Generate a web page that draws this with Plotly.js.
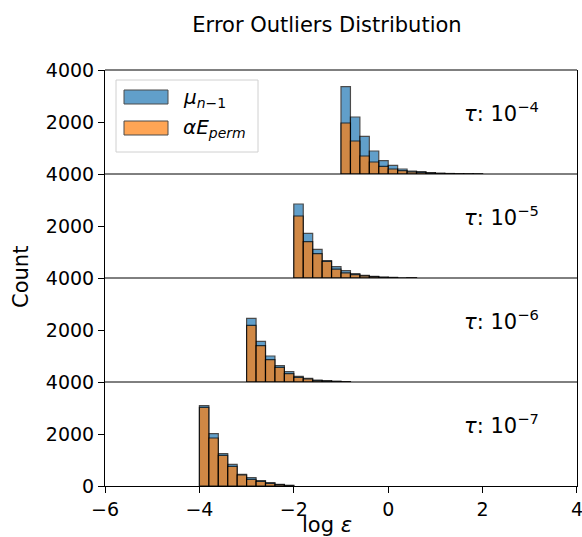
<!DOCTYPE html>
<html>
<head>
<meta charset="utf-8">
<script src="https://cdn.plot.ly/plotly-3.0.1.min.js"></script>
<style>html,body{margin:0;padding:0;background:#fff;}#chart{width:582px;height:537px;}</style>
</head>
<body>
<div id="chart"></div>
<script>
// ---- data ----
const binWidth = 0.2;
const binStarts = [-1, -2, -3, -4];               // left edge of first bin per panel
const tauLabels = ["<i>τ</i>: 10<sup>−4</sup>", "<i>τ</i>: 10<sup>−5</sup>", "<i>τ</i>: 10<sup>−6</sup>", "<i>τ</i>: 10<sup>−7</sup>"];

const muCounts1 = [3358, 2192, 1447, 885, 512, 330, 192, 115, 90, 55, 30, 20, 12, 8, 5];
const eCounts1  = [1962, 1270, 692, 461, 290, 192, 128, 85, 65, 40, 22, 14, 8, 5, 3];

const muCounts2 = [2846, 1715, 1100, 665, 435, 280, 165, 100, 65, 35, 25, 0, 10];
const eCounts2  = [2385, 1396, 935, 640, 340, 200, 128, 85, 50, 25, 15, 0, 6];

const muCounts3 = [2450, 1565, 1000, 627, 396, 219, 142, 77, 50, 30, 15];
const eCounts3  = [2180, 1396, 858, 565, 320, 181, 115, 50, 35, 20, 10];

const muCounts4 = [3090, 2012, 1242, 835, 450, 320, 204, 127, 65, 25];
const eCounts4  = [3027, 1846, 1181, 758, 423, 258, 181, 104, 50, 20];

const xTickVals = [-6, -4, -2, 0, 2, 4];
const xTickText = ["−6", "−4", "−2", "0", "2", "4"];

const muAll = [muCounts1, muCounts2, muCounts3, muCounts4];
const eAll  = [eCounts1, eCounts2, eCounts3, eCounts4];

// ---- build ----
const FONT = "DejaVu Sans, Liberation Sans, sans-serif";
const BLUE = "#1f77b4", ORANGE = "#ff7f0e";
const traces = [];
const yNames = ["y", "y2", "y3", "y4"];
for (let p = 0; p < 4; p++) {
  const centers = muAll[p].map((_, i) => binStarts[p] + binWidth * (i + 0.5));
  traces.push({type: "bar", x: centers, y: muAll[p], width: binWidth, xaxis: "x", yaxis: yNames[p],
    marker: {color: BLUE, opacity: 0.7, line: {color: "#000", width: 1.2}}, showlegend: false, hoverinfo: "skip"});
  traces.push({type: "bar", x: centers, y: eAll[p], width: binWidth, xaxis: "x", yaxis: yNames[p],
    marker: {color: ORANGE, opacity: 0.7, line: {color: "#000", width: 1.2}}, showlegend: false, hoverinfo: "skip"});
}

const L = 105, R = 5, T = 70, B = 51, W = 582, H = 537;
const pw = W - L - R, ph = H - T - B;
const px = v => (v - L) / pw;
const py = v => (H - B - v) / ph;

function yaxis(p) {
  const top = 1 - p * 0.25, bot = top - 0.25;
  return {
    domain: [bot, top], range: [0, 4000], anchor: "x",
    tickvals: p === 3 ? [0, 2000, 4000] : [2000, 4000],
    ticks: "outside", ticklen: 6, tickwidth: 1, tickcolor: "#000",
    showline: true, linecolor: "#000", linewidth: 1, mirror: true,
    showgrid: false, zeroline: false, ticklabeloverflow: "allow",
    tickfont: {family: FONT, size: 19, color: "#000"}
  };
}

const shapes = [];
[0.25, 0.5, 0.75, 1.0].forEach(v => shapes.push({type: "line", xref: "paper", yref: "paper",
  x0: 0, x1: 1, y0: v, y1: v, line: {color: "#000", width: 1}}));
// legend box
shapes.push({type: "rect", xref: "paper", yref: "paper", x0: px(116), x1: px(258), y0: py(152), y1: py(80),
  fillcolor: "rgba(255,255,255,0.8)", line: {color: "#d0d0d0", width: 1}});
shapes.push({type: "rect", xref: "paper", yref: "paper", x0: px(124), x1: px(168), y0: py(104), y1: py(90),
  fillcolor: BLUE, opacity: 0.7, line: {color: "#000", width: 1}});
shapes.push({type: "rect", xref: "paper", yref: "paper", x0: px(124), x1: px(168), y0: py(135), y1: py(121),
  fillcolor: ORANGE, opacity: 0.7, line: {color: "#000", width: 1}});

const annotations = [];
for (let p = 0; p < 4; p++) {
  annotations.push({xref: "paper", yref: yNames[p] + " domain", x: px(462), y: 0.6, xanchor: "left", yanchor: "middle",
    text: tauLabels[p], showarrow: false, font: {family: FONT, size: 21, color: "#000"}});
}
annotations.push({xref: "paper", yref: "paper", x: px(181), y: py(98), xanchor: "left", yanchor: "middle",
  text: "<i>μ</i><sub><i>n</i>−1</sub>", showarrow: false, font: {family: FONT, size: 20, color: "#000"}});
annotations.push({xref: "paper", yref: "paper", x: px(181), y: py(128), xanchor: "left", yanchor: "middle",
  text: "<i>αE</i><sub><i>perm</i></sub>", showarrow: false, font: {family: FONT, size: 20, color: "#000"}});
annotations.push({xref: "paper", yref: "paper", x: px(21), y: py(277), xanchor: "center", yanchor: "middle",
  textangle: -90, text: "Count", showarrow: false, font: {family: FONT, size: 21, color: "#000"}});
annotations.push({xref: "paper", yref: "paper", x: px(327), y: py(525), xanchor: "center", yanchor: "middle",
  text: "log <i>ε</i>", showarrow: false, font: {family: FONT, size: 21, color: "#000"}});

const layout = {
  width: W, height: H,
  margin: {l: L, r: R, t: T, b: B, pad: 0},
  paper_bgcolor: "#fff", plot_bgcolor: "#fff",
  barmode: "overlay", bargap: 0,
  title: {text: "Error Outliers Distribution", x: 327 / W, xanchor: "center", xref: "container",
    y: 1 - 25 / H, yanchor: "middle", font: {family: FONT, size: 21, color: "#000"}},
  xaxis: {range: [-6.0005, 4.0005], anchor: "y4", tickvals: xTickVals, ticktext: xTickText,
    ticks: "outside", ticklen: 6, tickwidth: 1, tickcolor: "#000",
    showline: true, linecolor: "#000", linewidth: 1, mirror: false, ticklabeloverflow: "allow",
    showgrid: false, zeroline: false, tickfont: {family: FONT, size: 19, color: "#000"}},
  yaxis: yaxis(0), yaxis2: yaxis(1), yaxis3: yaxis(2), yaxis4: yaxis(3),
  shapes: shapes, annotations: annotations, showlegend: false
};

Plotly.newPlot("chart", traces, layout, {staticPlot: true, displayModeBar: false});
</script>
</body>
</html>
